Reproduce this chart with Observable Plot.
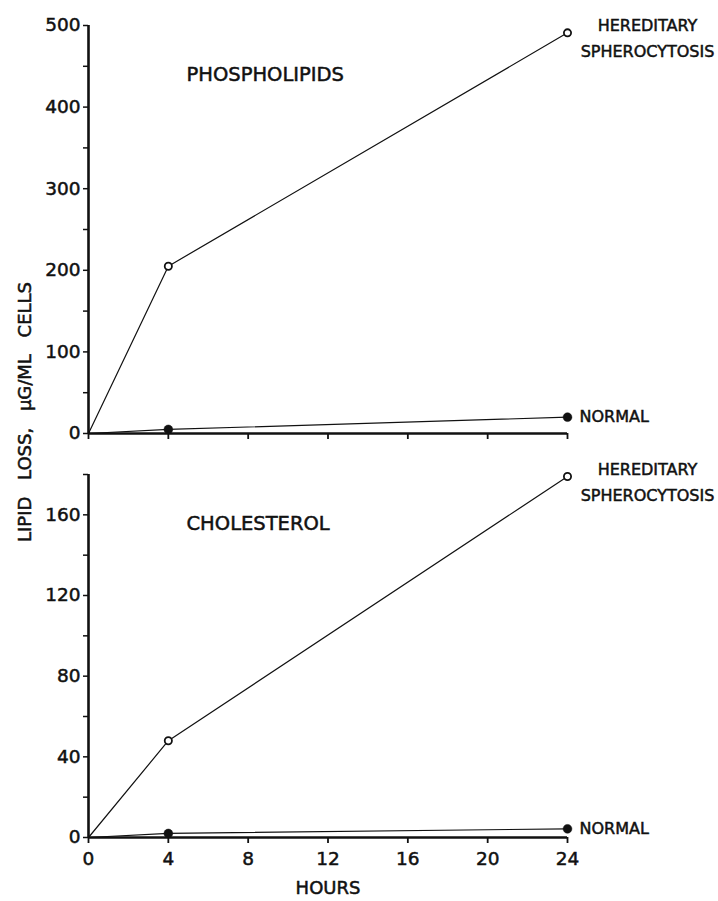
<!DOCTYPE html>
<html><head><meta charset="utf-8">
<script src="https://cdn.jsdelivr.net/npm/d3@7"></script>
<script src="https://cdn.jsdelivr.net/npm/@observablehq/plot@0.6"></script>
<style>
body{margin:0;background:#fff;}
#wrap{position:relative;width:718px;height:901px;font-family:"DejaVu Sans";}
#wrap svg{display:block;}
#wrap svg text{stroke:#111;stroke-width:0.5px;}
#ylab{position:absolute;left:24px;top:412px;transform:translate(-50%,-50%) rotate(-90deg);white-space:nowrap;font-size:18px;word-spacing:11px;color:#111;-webkit-text-stroke:0.5px #111;z-index:2;}
</style></head><body><div id="wrap"><div id="ylab">LIPID LOSS, µG/ML CELLS</div></div>
<script>
// Data
const hours = [0, 4, 24];
const phosphoHS = [0, 205, 491];
const phosphoNormal = [0, 5, 20];
const cholHS = [0, 48, 179];
const cholNormal = [0, 2, 4.3];
const xTicks = [0, 4, 8, 12, 16, 20, 24];
const phosphoTicks = [0, 100, 200, 300, 400, 500];
const phosphoMinor = [50, 150, 250, 350, 450];
const cholTicks = [0, 40, 80, 120, 160];
const cholMinor = [20, 60, 100, 140, 180];
const seriesLabels = ["HEREDITARY\nSPHEROCYTOSIS", "NORMAL"];
const panelTitles = ["PHOSPHOLIPIDS", "CHOLESTEROL"];
const xLabel = "HOURS";

const ink = "#111";
function rows(ys) { return hours.map((h, i) => ({x: h, y: ys[i]})); }

function panel(cfg) {
  const hs = rows(cfg.hs), nm = rows(cfg.nm);
  const marks = [
    Plot.axisY({ticks: cfg.major, tickSize: 5, tickPadding: 3, label: null, fontSize: 18.5, stroke: ink, fill: ink, strokeWidth: 1.5}),
    Plot.axisY({ticks: cfg.minor, tickSize: 5, tickFormat: () => "", label: null, stroke: ink, strokeWidth: 1.5}),
    Plot.axisX({ticks: xTicks, tickSize: 6, tickPadding: 8, label: null, fontSize: 18.5, fill: ink, stroke: ink, strokeWidth: 1.8,
      tickFormat: cfg.xLabels ? (d => String(d)) : (() => "")}),
    Plot.ruleX([0], {stroke: ink, strokeWidth: 2.6}),
    Plot.ruleY([0], {stroke: ink, strokeWidth: 2.6}),
    Plot.line(hs, {x: "x", y: "y", stroke: ink, strokeWidth: 1.2}),
    Plot.line(nm, {x: "x", y: "y", stroke: ink, strokeWidth: 1.2}),
    Plot.dot(hs.filter(d => d.x > 0), {x: "x", y: "y", r: 3.6, fill: "white", stroke: ink, strokeWidth: 1.8}),
    Plot.dot(nm.filter(d => d.x > 0), {x: "x", y: "y", r: 4.4, fill: ink, stroke: ink, strokeWidth: 0.5}),
    Plot.text(hs.slice(-1), {x: "x", y: "y", text: () => seriesLabels[0], textAnchor: "middle", dx: 80, dy: 3, lineHeight: 1.6, fontSize: 16, fill: ink}),
    Plot.text(nm.slice(-1), {x: "x", y: "y", text: () => seriesLabels[1], textAnchor: "start", dx: 12, dy: 0, fontSize: 16, fill: ink}),
    Plot.text([cfg.title], {frameAnchor: "top-left", text: d => d, dx: 98, dy: cfg.titleDy, textAnchor: "start", lineAnchor: "middle", fontSize: 19.5, fill: ink})
  ];
  if (cfg.xLabels) {
    marks.push(Plot.text([xLabel], {frameAnchor: "bottom", text: d => d, dy: 51, lineAnchor: "middle", fontSize: 18, fill: ink}));
  }
  return Plot.plot({
    width: 718,
    height: cfg.height,
    marginLeft: 88,
    marginRight: 151,
    marginTop: cfg.marginTop,
    marginBottom: cfg.marginBottom,
    x: {domain: [0, 24]},
    y: {domain: cfg.domain},
    style: {fontFamily: "DejaVu Sans", fontSize: "18px", color: ink, background: "white", overflow: "visible"},
    marks
  });
}

const wrap = document.getElementById("wrap");
wrap.appendChild(panel({hs: phosphoHS, nm: phosphoNormal, major: phosphoTicks, minor: phosphoMinor, domain: [0, 500],
  height: 445, marginTop: 25, marginBottom: 12, title: panelTitles[0], titleDy: 49, xLabels: false}));
wrap.appendChild(panel({hs: cholHS, nm: cholNormal, major: cholTicks, minor: cholMinor, domain: [0, 180],
  height: 456, marginTop: 29, marginBottom: 64, title: panelTitles[1], titleDy: 49, xLabels: true}));
</script></body></html>
